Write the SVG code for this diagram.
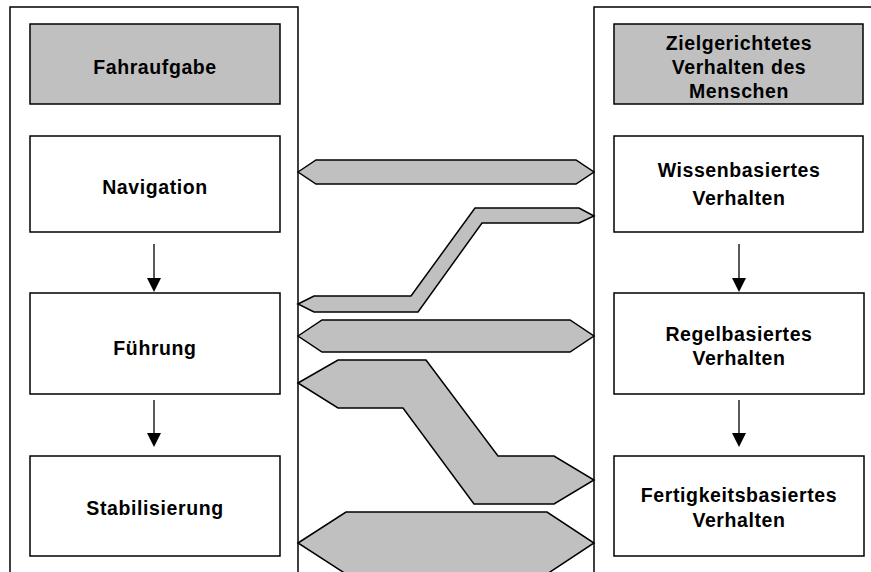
<svg xmlns="http://www.w3.org/2000/svg" width="871" height="572" viewBox="0 0 871 572">
<style>
.frame{fill:none;stroke:#000;stroke-width:1.5}
.head{fill:#c0c0c0;stroke:#000;stroke-width:1.5}
.box{fill:#fff;stroke:#000;stroke-width:1.5}
.band{fill:#c0c0c0;stroke:#000;stroke-width:1.5;stroke-linejoin:miter}
.edge{stroke:#000;stroke-width:1.3;fill:none}
text{font-family:"Liberation Sans",Arial,sans-serif;font-weight:bold;font-size:19.5px;fill:#000;text-anchor:middle;letter-spacing:0.6px}
</style>
<rect width="871" height="572" fill="#fff"/>
<g id="frames">
<rect class="frame" x="10" y="7" width="288" height="600"/>
<rect class="frame" x="594" y="7" width="300" height="600"/>
</g>
<g id="connectors">
<polygon class="band" points="298,172 316,160 576,160 594,172 576,184 316,184"/>
<polygon class="band" points="298,304 314,296 411,296 475,208 579,208 594,216 579,223 482,223 418,312 314,312"/>
<polygon class="band" points="298,336 322,320 570,320 594,336 570,352 322,352"/>
<polygon class="band" points="298,383 338,360 426,360 498,456 554,456 594,480 554,504 474,504 403,408 338,408"/>
<polygon class="band" points="298,543 346,512 547,512 594,543 547,574 346,574"/>
<line class="edge" x1="154" y1="244" x2="154" y2="279"/>
<path d="M147,278 L161,278 L154,292 Z"/>
<line class="edge" x1="154" y1="400" x2="154" y2="434"/>
<path d="M147,433 L161,433 L154,447 Z"/>
<line class="edge" x1="739" y1="244" x2="739" y2="279"/>
<path d="M732,278 L746,278 L739,292 Z"/>
<line class="edge" x1="739" y1="400" x2="739" y2="434"/>
<path d="M732,433 L746,433 L739,447 Z"/>
</g>
<g id="fahraufgabe">
<rect class="head" x="30" y="24" width="250" height="80"/>
<text x="155" y="74">Fahraufgabe</text>
</g>
<g id="navigation">
<rect class="box" x="30" y="136" width="250" height="96"/>
<text x="155" y="194">Navigation</text>
</g>
<g id="fuehrung">
<rect class="box" x="30" y="293" width="250" height="101"/>
<text x="155" y="355">Führung</text>
</g>
<g id="stabilisierung">
<rect class="box" x="30" y="456" width="250" height="100"/>
<text x="155" y="515">Stabilisierung</text>
</g>
<g id="zielgerichtet">
<rect class="head" x="614" y="24" width="249" height="80"/>
<text x="739" y="50">Zielgerichtetes</text>
<text x="739" y="74">Verhalten des</text>
<text x="739" y="98">Menschen</text>
</g>
<g id="wissenbasiert">
<rect class="box" x="614" y="136" width="249" height="96"/>
<text x="739" y="177">Wissenbasiertes</text>
<text x="739" y="205">Verhalten</text>
</g>
<g id="regelbasiert">
<rect class="box" x="614" y="293" width="250" height="101"/>
<text x="739" y="341">Regelbasiertes</text>
<text x="739" y="365">Verhalten</text>
</g>
<g id="fertigkeitsbasiert">
<rect class="box" x="614" y="456" width="250" height="100"/>
<text x="739" y="502">Fertigkeitsbasiertes</text>
<text x="739" y="527">Verhalten</text>
</g>
</svg>
